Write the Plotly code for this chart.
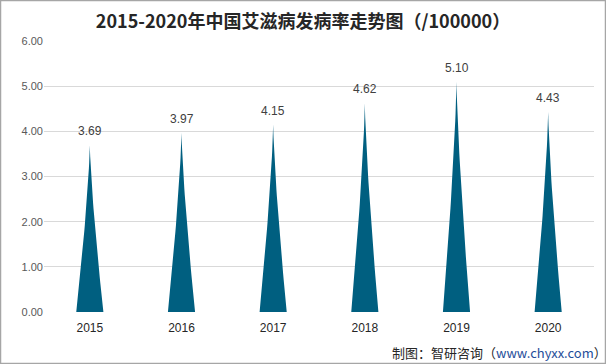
import numpy as np
import plotly.graph_objects as go

years = ["2015", "2016", "2017", "2018", "2019", "2020"]
values = [3.69, 3.97, 4.15, 4.62, 5.10, 4.43]
y_ticks = [0, 1, 2, 3, 4, 5, 6]
y_tick_labels = ["0.00", "1.00", "2.00", "3.00", "4.00", "5.00", "6.00"]

color = "#005f80"
half_w = 0.148

fig = go.Figure()
t = np.linspace(0, 1, 30)
for i, v in enumerate(values):
    xs_left = i - half_w * (1 - t) ** 1.35
    ys = v * t
    xs = list(xs_left) + list((i + half_w * (1 - t) ** 1.35)[::-1])
    yy = list(ys) + list(ys[::-1])
    fig.add_trace(go.Scatter(x=xs, y=yy, fill="toself", mode="lines",
                             line=dict(color=color, width=0), fillcolor=color,
                             hoverinfo="skip", showlegend=False))

annotations = []
for i, v in enumerate(values):
    annotations.append(dict(x=i, y=v, xref="x", yref="y", text=f"{v:.2f}", showarrow=False,
                            yshift=14, yanchor="middle",
                            font=dict(family="Liberation Sans, Arial", size=12, color="#404040")))
annotations.append(dict(
    text="制图：智研咨询（<span style='color:#1f4e9a'>www.chyxx.com</span>）",
    xref="paper", yref="paper", x=1.028, y=-0.15, xanchor="right", yanchor="middle",
    showarrow=False, font=dict(family="Noto Sans CJK SC", size=13, color="#262626")))

fig.update_layout(
    width=606, height=364,
    margin=dict(l=44, r=12, t=41, b=52),
    paper_bgcolor="white", plot_bgcolor="white",
    title=dict(text="<b>2015-2020年中国艾滋病发病率走势图（/100000）</b>",
               x=0.5, xanchor="center", y=0.94, yanchor="middle",
               font=dict(family="Noto Sans CJK SC", size=18, color="#262626")),
    xaxis=dict(range=[-0.5, 5.5], tickvals=list(range(len(years))), ticktext=years,
               showgrid=False, zeroline=False, showline=False, ticks="",
               ticklabelstandoff=7,
               tickfont=dict(family="Liberation Sans, Arial", size=12, color="#262626")),
    yaxis=dict(range=[0, 6], tickvals=y_ticks, ticktext=y_tick_labels,
               showgrid=True, gridcolor="#d9d9d9", gridwidth=1, zeroline=False,
               showline=False, ticks="",
               tickfont=dict(family="Liberation Sans, Arial", size=11, color="#595959")),
    annotations=annotations,
    shapes=[dict(type="rect", xref="paper", yref="paper",
                 x0=-43.5/550, x1=1+11.5/550, y0=-51.5/271, y1=1+40.5/271,
                 line=dict(color="#a6a6a6", width=1.5), fillcolor="rgba(0,0,0,0)", layer="below")],
)

fig.write_html("out.html", config={"displayModeBar": False},
               post_script="document.body.style.margin='0';document.body.style.overflow='hidden';")
